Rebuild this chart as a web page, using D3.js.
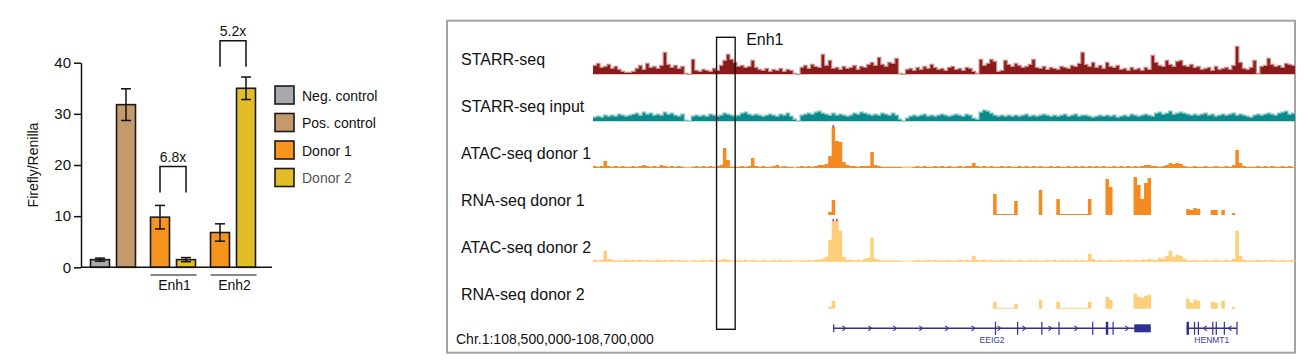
<!DOCTYPE html>
<html lang="en">
<head>
<meta charset="utf-8">
<title>Enhancer reporter assay and genome tracks</title>
<script src="https://cdn.jsdelivr.net/npm/d3@7"></script>
<style>
  body { margin: 0; background: #fff; }
  svg text { font-family: "Liberation Sans", Arial, sans-serif; fill: #111; }
  .axis path, .axis line { stroke: #111; stroke-width: 1.5; }
  .axis text { font-size: 15px; }
</style>
</head>
<body>
<div id="chart"></div>
<script>
// ---------- luciferase bar chart ----------
var barGroups = ["Ctrl", "Enh1", "Enh2"]
var barGroupOf = ["Ctrl", "Ctrl", "Enh1", "Enh1", "Enh2", "Enh2"]
var barSlot = [0, 1, 0, 1, 0, 1]
var barKind = ["Neg. control", "Pos. control", "Donor 1", "Donor 2", "Donor 1", "Donor 2"]
var barValues = [1.5, 31.8, 9.8, 1.5, 6.8, 35.0]
var barErrors = [0.3, 3.1, 2.3, 0.4, 1.7, 2.2]
var legendLabels = ["Neg. control", "Pos. control", "Donor 1", "Donor 2"]
var legendColors = ["#a7a9ac", "#c49a6c", "#f7941d", "#e3bd27"]
var yTicks = [0, 10, 20, 30, 40]
var foldGroups = ["Enh1", "Enh2"]
var foldLabels = ["6.8x", "5.2x"]
var foldTop = [19.7, 44.3]
var foldBottom = [14.6, 39.2]

// ---------- genome tracks (1 kb bins, chr1:108,500,000-108,700,000) ----------
var trackNames = ["STARR-seq", "STARR-seq input", "ATAC-seq donor 1", "RNA-seq donor 1", "ATAC-seq donor 2", "RNA-seq donor 2"]
var trackColors = ["#8a1b1b", "#0a8a8b", "#f6891f", "#f6891f", "#fdcf7a", "#fdcf7a"]
var trackTips = ["#c98a88", "#7fc3c3", "#fbc08a", "#fbc08a", "#fee3b0", "#fee3b0"]

var starrSeq = [
  9,11,7,8,10,6,8,5,3,2,  2,3,6,9,5,11,7,8,6,9,  22,10,7,9,6,8,1,0,15,4,  3,5,4,3,6,4,9,14,20,15,
  12,8,9,7,8,14,7,5,4,6,  3,5,4,6,3,5,4,1,0,7,  9,6,10,8,7,20,9,14,6,7,  5,8,6,7,9,5,8,7,10,12,
  9,17,10,8,12,11,16,1,0,5,  6,4,7,5,8,6,10,7,5,6,  4,7,8,5,6,4,7,6,3,1,  15,9,11,15,13,3,4,14,10,8,
  11,9,7,8,10,15,7,6,8,5,  7,6,5,8,7,6,9,8,11,22,  10,8,12,7,9,6,12,8,7,9,  5,6,4,7,5,6,4,7,5,19,
  12,9,8,14,10,8,13,14,9,8,  10,7,8,5,6,7,4,8,5,6,  7,5,9,28,12,6,5,7,14,1,  8,9,16,10,8,9,7,11,10,9]
var starrInput = [
  4,5,4,6,5,6,5,7,6,5,  6,7,8,6,9,7,8,6,7,6,  9,7,8,6,5,7,1,0,5,6,  5,6,5,7,6,5,6,8,7,6,
  5,6,8,9,7,6,7,6,5,6,  7,6,5,7,6,8,5,2,0,6,  7,8,7,9,10,8,7,6,8,6,  7,6,5,6,8,7,9,8,7,6,
  7,6,8,7,6,8,6,2,0,3,  5,6,5,6,7,5,6,5,6,7,  6,5,6,7,6,5,7,6,3,2,  9,11,10,8,6,5,6,5,6,5,
  6,5,6,7,5,6,5,6,7,6,  5,6,5,6,7,5,6,7,5,6,  6,5,4,5,6,5,6,5,6,4,  5,6,5,7,6,5,6,7,6,5,
  8,9,7,8,10,7,8,9,8,7,  6,7,6,7,8,6,7,5,6,7,  6,7,8,6,7,6,5,4,6,7,  6,7,8,7,6,8,9,10,7,8]
var atacDonor1 = [
  2,1,2,7,2,1,2,1,2,1,  1,2,1,2,3,2,1,2,1,3,  2,1,2,1,2,1,0,0,1,2,  1,2,1,2,1,2,3,20,8,1,
  1,1,2,1,2,10,2,1,2,1,  1,2,3,1,2,1,1,0,1,2,  1,2,1,2,3,3,4,12,41,27,  26,6,3,2,2,1,2,2,2,16,
  3,2,1,1,1,1,1,1,0,0,  0,1,2,1,2,1,1,2,1,2,  1,2,1,1,2,1,2,2,5,2,  1,2,1,2,1,1,2,1,2,1,
  1,2,1,2,1,2,1,2,1,1,  2,1,2,1,1,2,1,2,1,2,  1,2,1,2,1,2,1,1,2,1,  2,1,2,1,2,1,2,3,3,2,
  2,1,2,3,5,4,5,4,2,1,  1,2,1,1,2,1,1,2,1,1,  2,1,3,18,5,2,1,1,1,2,  1,2,1,2,1,1,2,1,2,1]
var rnaDonor1 = [
  0,0,0,0,0,0,0,0,0,0,  0,0,0,0,0,0,0,0,0,0,  0,0,0,0,0,0,0,0,0,0,  0,0,0,0,0,0,0,0,0,0,
  0,0,0,0,0,0,0,0,0,0,  0,0,0,0,0,0,0,0,0,0,  0,0,0,0,0,0,0,3,15,0,  0,0,0,0,0,0,0,0,0,0,
  0,0,0,0,0,0,0,0,0,0,  0,0,0,0,0,0,0,0,0,0,  0,0,0,0,0,0,0,0,0,0,  0,0,0,0,21,1,1,1,1,1,
  14,0,0,0,0,0,0,25,0,0,  0,0,16,1,1,1,1,1,1,1,  1,16,0,0,0,0,36,28,0,0,  0,0,0,0,38,30,16,32,37,0,
  0,0,0,0,0,0,0,0,0,6,  5,7,6,0,0,0,5,5,0,5,  0,0,2,0,0,0,0,0,0,0,  0,0,0,0,0,0,0,0,0,0]
var atacDonor2 = [
  2,1,2,11,3,2,1,2,1,2,  1,2,1,2,1,2,1,1,2,1,  2,1,2,1,2,1,1,0,1,1,  1,2,1,2,1,1,2,3,2,1,
  1,2,1,2,1,2,1,1,2,1,  1,2,1,2,1,1,1,0,1,1,  1,2,1,2,2,3,5,22,41,41,  31,5,2,2,1,2,1,3,4,24,
  3,2,1,1,1,1,1,1,0,0,  0,1,2,1,1,2,1,2,1,1,  1,2,1,1,2,1,2,1,6,2,  1,2,1,2,1,1,2,1,2,1,
  1,2,1,1,2,1,2,1,1,2,  1,2,1,2,1,2,1,2,1,2,  1,8,3,1,2,1,1,2,1,1,  2,1,2,1,2,1,2,2,3,2,
  2,4,3,6,11,5,7,6,3,1,  1,2,1,1,2,1,1,2,1,1,  2,1,3,31,6,2,1,1,1,2,  1,2,1,2,1,1,2,1,1,2]
var rnaDonor2 = [
  0,0,0,0,0,0,0,0,0,0,  0,0,0,0,0,0,0,0,0,0,  0,0,0,0,0,0,0,0,0,0,  0,0,0,0,0,0,0,0,0,0,
  0,0,0,0,0,0,0,0,0,0,  0,0,0,0,0,0,0,0,0,0,  0,0,0,0,0,0,0,2,8,0,  0,0,0,0,0,0,0,0,0,0,
  0,0,0,0,0,0,0,0,0,0,  0,0,0,0,0,0,0,0,0,0,  0,0,0,0,0,0,0,0,0,0,  0,0,0,0,7,1,1,1,1,1,
  5,0,0,0,0,0,0,9,0,0,  0,0,7,1,1,1,1,1,1,1,  1,7,0,0,0,0,12,9,0,0,  0,0,0,0,15,12,11,13,14,0,
  0,0,0,0,0,0,0,0,0,10,  6,9,8,0,0,0,7,6,0,8,  0,0,2,0,0,0,0,0,0,0,  0,0,0,0,0,0,0,0,0,0]
var trackValues = [starrSeq, starrInput, atacDonor1, rnaDonor1, atacDonor2, rnaDonor2]
var clippedBins = [[], [], [68], [], [68, 69], []]

var enhancerName = "Enh1"
var enhancerKb = [35.2, 40.5]
var regionLabel = "Chr.1:108,500,000-108,700,000"

var geneNames = ["EEIG2", "HENMT1"]
var geneSpan = [[68.5, 158.9], [169.1, 183.5]]
var geneStrand = ["+", "-"]
var geneExons = [
  [[68.4, 68.7, "utr"], [114.5, 114.8, "cds"], [120.8, 121.1, "cds"], [127.7, 128.0, "cds"], [132.6, 132.9, "cds"],
   [142.2, 142.5, "cds"], [146.1, 146.8, "cds"], [148.0, 148.3, "cds"], [154.2, 158.9, "utr"]],
  [[169.1, 169.8, "cds"], [171.2, 171.5, "cds"], [172.3, 172.6, "cds"], [176.4, 176.7, "cds"],
   [177.4, 177.7, "cds"], [179.7, 180.0, "cds"], [183.3, 183.5, "cds"]]]
var geneArrows = [
  [71.5, 78.9, 86.0, 93.4, 100.8, 108.3, 115.7, 122.8, 130.2, 137.6, 152.1],
  [174.4, 181.5]]

var w = 1308
var h = 362
var svg = d3.select("#chart").append("svg")
  .attr("width", w)
  .attr("height", h)

// ===== bar chart =====
var yScale = d3.scaleLinear().domain([0, 40]).range([267.3, 62.7])
var groupScale = d3.scaleBand().domain(barGroups).range([83, 263])
var slotScale = d3.scaleBand().domain([0, 1]).range([4, 56]).paddingInner(0.27).paddingOuter(0.135)
var colorScale = d3.scaleOrdinal().domain(legendLabels).range(legendColors)

function barX(i) { return groupScale(barGroupOf[i]) + slotScale(barSlot[i]) }
function barMid(i) { return barX(i) + slotScale.bandwidth() / 2 }

var bars = svg.append("g")
bars.selectAll("rect")
  .data(d3.range(barValues.length))
  .enter()
  .append("rect")
  .attr("x", barX)
  .attr("y", function(i) { return yScale(barValues[i]) })
  .attr("width", slotScale.bandwidth())
  .attr("height", function(i) { return yScale(0) - yScale(barValues[i]) })
  .style("fill", function(i) { return colorScale(barKind[i]) })
  .style("stroke", "#1a1a1a")
  .style("stroke-width", 1.6)

// error bars
var errs = svg.append("g").style("stroke", "#111").style("stroke-width", 1.5)
d3.range(barValues.length).forEach(function(i) {
  var cx = barMid(i)
  var lo = yScale(barValues[i] - barErrors[i])
  var hi = yScale(barValues[i] + barErrors[i])
  errs.append("line").attr("x1", cx).attr("x2", cx).attr("y1", lo).attr("y2", hi)
  errs.append("line").attr("x1", cx - 5).attr("x2", cx + 5).attr("y1", lo).attr("y2", lo)
  errs.append("line").attr("x1", cx - 5).attr("x2", cx + 5).attr("y1", hi).attr("y2", hi)
})

// axes
svg.append("g")
  .attr("class", "axis")
  .attr("transform", "translate(81,0)")
  .call(d3.axisLeft(yScale).tickValues(yTicks).tickSize(7).tickSizeOuter(0).tickPadding(3))

svg.append("line")
  .attr("x1", 81).attr("x2", 272)
  .attr("y1", yScale(0)).attr("y2", yScale(0))
  .style("stroke", "#111").style("stroke-width", 1.5)

svg.append("text")
  .attr("transform", "translate(38," + yScale(20) + ") rotate(-90)")
  .attr("text-anchor", "middle")
  .style("font-size", "14px")
  .text("Firefly/Renilla")

// group underlines + labels
foldGroups.forEach(function(g) {
  var x0 = groupScale(g) + slotScale(0)
  var x1 = groupScale(g) + slotScale(1) + slotScale.bandwidth() + 1
  svg.append("line")
    .attr("x1", x0).attr("x2", x1).attr("y1", 275).attr("y2", 275)
    .style("stroke", "#111").style("stroke-width", 1.2)
  svg.append("text")
    .attr("x", (x0 + x1) / 2 + 1).attr("y", 290)
    .attr("text-anchor", "middle")
    .style("font-size", "14px")
    .text(g)
})

// fold-change brackets
foldGroups.forEach(function(g, k) {
  var a = groupScale(g) + slotScale(0) + slotScale.bandwidth() / 2
  var b = groupScale(g) + slotScale(1) + slotScale.bandwidth() / 2
  var t = yScale(foldTop[k])
  var btm = yScale(foldBottom[k])
  svg.append("path")
    .attr("d", "M" + a + "," + btm + "V" + t + "H" + b + "V" + btm)
    .style("fill", "none").style("stroke", "#111").style("stroke-width", 1.5)
  svg.append("text")
    .attr("x", (a + b) / 2).attr("y", t - 5)
    .attr("text-anchor", "middle")
    .style("font-size", "14px")
    .text(foldLabels[k])
})

// legend
var legend = svg.append("g").attr("transform", "translate(275,86)")
legendLabels.forEach(function(lab, i) {
  var row = legend.append("g").attr("transform", "translate(0," + (i * 27.5) + ")")
  row.append("rect")
    .attr("width", 19).attr("height", 18)
    .style("fill", legendColors[i]).style("stroke", "#1a1a1a").style("stroke-width", 1.6)
  row.append("text")
    .attr("x", 27).attr("y", 14.5)
    .style("font-size", "14px")
    .style("fill", i === 3 ? "#555" : "#111")
    .text(lab)
})

// ===== genome browser panel =====
svg.append("rect")
  .attr("x", 447).attr("y", 20.7).attr("width", 848).attr("height", 332)
  .style("fill", "none").style("stroke", "#a3a3a3").style("stroke-width", 2)

var gx = d3.scaleLinear().domain([0, 200]).range([593, 1295])
var trackBase = d3.scalePoint().domain(trackNames).range([74.3, 308.7])
var sig = d3.scaleLinear().domain([0, 42]).range([0, 42])

trackNames.forEach(function(name, t) {
  var base = trackBase(name)
  var vals = trackValues[t]
  var pts = vals.map(function(v, i) { return [i, v] })
  pts.push([200, vals[vals.length - 1]])
  var area = d3.area()
    .x(function(d) { return gx(d[0]) })
    .y0(base)
    .y1(function(d) { return base - sig(d[1]) })
    .curve(d3.curveStepAfter)
  var line = d3.line()
    .x(function(d) { return gx(d[0]) })
    .y(function(d) { return base - sig(d[1]) })
    .curve(d3.curveStepAfter)

  if (t === 2 || t === 4) {
    svg.append("line")
      .attr("x1", gx(0)).attr("x2", gx(200)).attr("y1", base - 0.8).attr("y2", base - 0.8)
      .style("stroke", trackTips[t]).style("stroke-width", 1.6)
  }
  svg.append("path")
    .datum(pts)
    .attr("d", area)
    .style("fill", trackColors[t])
  if (t < 2) {
    // lighter window-max tips, as in the browser rendering
    svg.append("path")
      .datum(pts)
      .attr("d", line)
      .style("fill", "none")
      .style("stroke", trackTips[t])
      .style("stroke-width", 1.2)
  }

  clippedBins[t].forEach(function(b) {
    svg.append("rect")
      .attr("x", gx(b) + 0.8).attr("y", base - sig(42) - 1)
      .attr("width", 1.6).attr("height", 2.5)
      .style("fill", "#c2379f")
  })

  svg.append("text")
    .attr("x", 461).attr("y", base - 9)
    .style("font-size", "16px")
    .text(name)
})

// enhancer box
svg.append("rect")
  .attr("x", gx(enhancerKb[0])).attr("y", 37.3)
  .attr("width", gx(enhancerKb[1]) - gx(enhancerKb[0])).attr("height", 292)
  .style("fill", "none").style("stroke", "#111").style("stroke-width", 1.4)
svg.append("text")
  .attr("x", gx(enhancerKb[1]) + 11).attr("y", 45)
  .style("font-size", "16px")
  .text(enhancerName)

svg.append("text")
  .attr("x", 456).attr("y", 344)
  .style("font-size", "14px")
  .text(regionLabel)

// genes
var geneY = 328.3
var geneColor = "#2e3192"
geneNames.forEach(function(g, k) {
  var gg = svg.append("g").style("stroke", geneColor).style("fill", geneColor)
  gg.append("line")
    .attr("x1", gx(geneSpan[k][0])).attr("x2", gx(geneSpan[k][1]))
    .attr("y1", geneY).attr("y2", geneY)
    .style("stroke-width", 1.4)
  geneExons[k].forEach(function(e) {
    var hh = e[2] === "cds" ? 13 : 8
    gg.append("rect")
      .attr("x", gx(e[0])).attr("y", geneY - hh / 2)
      .attr("width", Math.max(1.2, gx(e[1]) - gx(e[0]))).attr("height", hh)
      .style("stroke", "none")
  })
  geneArrows[k].forEach(function(a) {
    var ax = gx(a)
    var dir = geneStrand[k] === "+" ? 1 : -1
    gg.append("path")
      .attr("d", "M" + (ax - 1.5 * dir) + "," + (geneY - 2.5) + "L" + (ax + 1.5 * dir) + "," + geneY + "L" + (ax - 1.5 * dir) + "," + (geneY + 2.5))
      .style("fill", "none").style("stroke-width", 1.1)
  })
  svg.append("text")
    .attr("x", gx((geneSpan[k][0] + geneSpan[k][1]) / 2)).attr("y", 343)
    .attr("text-anchor", "middle")
    .style("font-size", "8.5px")
    .style("fill", "#3a3d96")
    .text(g)
})
</script>
</body>
</html>
